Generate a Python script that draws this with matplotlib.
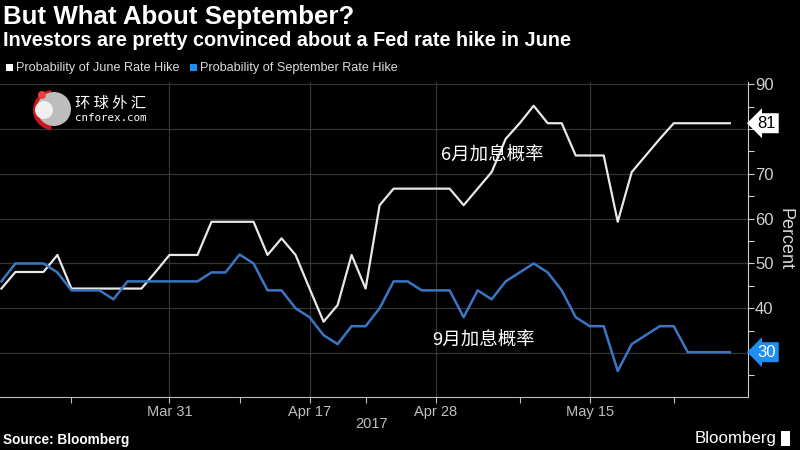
import matplotlib
matplotlib.use('Agg')
import matplotlib.pyplot as plt
import numpy as np
from matplotlib.patches import Rectangle, Circle, Wedge
from matplotlib.transforms import IdentityTransform

# trading days shown (CME closed Good Friday / Memorial Day)
dates = ['2017-03-15', '2017-03-16', '2017-03-17', '2017-03-20', '2017-03-21', '2017-03-22',
         '2017-03-23', '2017-03-24', '2017-03-27', '2017-03-28', '2017-03-29', '2017-03-30',
         '2017-03-31', '2017-04-03', '2017-04-04', '2017-04-05', '2017-04-06', '2017-04-07',
         '2017-04-10', '2017-04-11', '2017-04-12', '2017-04-13', '2017-04-17', '2017-04-18',
         '2017-04-19', '2017-04-20', '2017-04-21', '2017-04-24', '2017-04-25', '2017-04-26',
         '2017-04-27', '2017-04-28', '2017-05-01', '2017-05-02', '2017-05-03', '2017-05-04',
         '2017-05-05', '2017-05-08', '2017-05-09', '2017-05-10', '2017-05-11', '2017-05-12',
         '2017-05-15', '2017-05-16', '2017-05-17', '2017-05-18', '2017-05-19', '2017-05-22',
         '2017-05-23', '2017-05-24', '2017-05-25', '2017-05-26', '2017-05-30']

june_prob = [44.4, 48.1, 48.1, 48.1, 51.9, 44.4, 44.4, 44.4, 44.4, 44.4, 44.4, 48.1, 51.9,
             51.9, 51.9, 59.3, 59.3, 59.3, 59.3, 51.9, 55.6, 51.9, 44.4, 37.0, 40.7, 51.9,
             44.4, 63.0, 66.7, 66.7, 66.7, 66.7, 66.7, 63.0, 66.7, 70.4, 77.8, 81.3, 85.2,
             81.3, 81.3, 74.1, 74.1, 74.1, 59.3, 70.4, 74.1, 77.8, 81.3, 81.3, 81.3, 81.3, 81.3]

sept_prob = [46.0, 50.0, 50.0, 50.0, 48.0, 44.0, 44.0, 44.0, 42.0, 46.0, 46.0, 46.0, 46.0,
             46.0, 46.0, 48.0, 48.0, 52.0, 50.0, 44.0, 44.0, 40.0, 38.0, 34.0, 32.0, 36.0,
             36.0, 40.0, 46.0, 46.0, 44.0, 44.0, 44.0, 38.0, 44.0, 42.0, 46.0, 48.0, 50.0,
             48.0, 44.0, 38.0, 36.0, 36.0, 26.0, 32.0, 34.0, 36.0, 36.0, 30.2, 30.2, 30.2, 30.2]

major_dates = ['2017-03-31', '2017-04-17', '2017-04-28', '2017-05-15']
major_labels = ['Mar 31', 'Apr 17', 'Apr 28', 'May 15']
minor_dates = ['2017-03-22', '2017-04-07', '2017-04-21', '2017-05-08', '2017-05-23']
y_ticks = [30, 40, 50, 60, 70, 80, 90]
y_labels = ['', '40', '50', '60', '70', '', '90']  # 30 and 80 sit under the value tags

W = 800.0
H = 450.0
WHITE = '#e8e8e8'
BLUE = '#3a76c4'
TAG_BLUE = '#1f8ef1'
GRID = '#353535'
SANS = ['Liberation Sans', 'DejaVu Sans']
CJK = ['Noto Sans CJK SC', 'DejaVu Sans']

x = np.arange(len(dates))

fig = plt.figure(figsize=(8, 4.5), dpi=100, facecolor='black')
ax = fig.add_axes([0, 1 - 397 / H, 748 / W, (397 - 82) / H])
ax.set_facecolor('black')

ax.plot(x, june_prob, color=WHITE, lw=1.6, zorder=3)
ax.plot(x, sept_prob, color=BLUE, lw=1.8, zorder=3)

ax.set_xlim(-0.1, 53.3)
ax.set_ylim(20.2, 90.5)

# axes / ticks
ax.yaxis.tick_right()
ax.set_yticks(y_ticks)
ax.set_yticklabels(y_labels)
ax.set_yticks(np.arange(25, 90, 5), minor=True)
ax.set_xticks([dates.index(d) for d in major_dates])
ax.set_xticklabels(major_labels)
ax.set_xticks([dates.index(d) for d in minor_dates], minor=True)
ax.tick_params(axis='y', which='both', colors='#cfcfcf', length=4, width=0.8,
               labelsize=12, pad=1)
ax.tick_params(axis='x', which='both', colors='#bfbfbf', length=4, width=0.8,
               labelsize=10.5, pad=1.5)
for lab in ax.get_xticklabels() + ax.get_yticklabels():
    lab.set_family(SANS)
ax.grid(True, which='major', color=GRID, lw=0.9)
for side in ['left', 'top']:
    ax.spines[side].set_visible(False)
ax.spines['right'].set_color('#cfcfcf')
ax.spines['bottom'].set_color('#bfbfbf')

ax.set_ylabel('Percent', color='#d8d8d8', fontsize=13, rotation=270,
              family=SANS, labelpad=14)
ax.yaxis.set_label_position('right')
ax.text(0.497, -0.086, '2017', transform=ax.transAxes, ha='center', va='center',
        color='#bfbfbf', fontsize=10.5, family=SANS)

# last value tags
ax.text(1.013, june_prob[-1], f'{june_prob[-1]:.0f}', transform=ax.get_yaxis_transform(),
        ha='left', va='center', color='black', fontsize=12, family=SANS, zorder=5,
        bbox=dict(boxstyle='larrow,pad=0.15', fc='white', ec='none'))
ax.text(1.013, sept_prob[-1], f'{sept_prob[-1]:.0f}', transform=ax.get_yaxis_transform(),
        ha='left', va='center', color='white', fontsize=12, family=SANS, zorder=5,
        bbox=dict(boxstyle='larrow,pad=0.15', fc=TAG_BLUE, ec='none'))

# chinese annotations
ax.text(31.4, 74.0, '6月加息概率', color='white', fontsize=13.3, family=CJK,
        ha='left', va='center')
ax.text(30.75, 32.8, '9月加息概率', color='white', fontsize=13.3, family=CJK,
        ha='left', va='center')

# titles
fig.text(3 / W, 1 - 17 / H, 'But What About September?', color='white', fontsize=18.6,
         fontweight='bold', family=SANS, va='center')
fig.text(3 / W, 1 - 41 / H, 'Investors are pretty convinced about a Fed rate hike in June',
         color='white', fontsize=14.3, fontweight='bold', family=SANS, va='center')

# legend
fig.patches.append(Rectangle((6 / W, 1 - 71 / H), 7 / W, 7 / H, transform=fig.transFigure,
                             fc='white', ec='none'))
fig.text(16 / W, 1 - 67.5 / H, 'Probability of June Rate Hike', color='#d8d8d8',
         fontsize=9.1, family=SANS, va='center')
fig.patches.append(Rectangle((190 / W, 1 - 71 / H), 7 / W, 7 / H, transform=fig.transFigure,
                             fc=TAG_BLUE, ec='none'))
fig.text(200 / W, 1 - 67.5 / H, 'Probability of September Rate Hike', color='#d8d8d8',
         fontsize=9.1, family=SANS, va='center')

# cnforex watermark (pixel coordinates)
px = IdentityTransform()
fig.patches.append(Wedge((53, H - 110), 20, 95, 265, width=5, transform=px,
                         fc='#d0161d', ec='none'))
fig.patches.append(Circle((54, H - 109), 17, transform=px, fc='#bdbdbd', ec='none'))
fig.patches.append(Circle((44, H - 110), 9, transform=px, fc='#f0f0f0', ec='none'))
fig.patches.append(Circle((42, H - 95), 4, transform=px, fc='#e84040', ec='none'))
fig.text(75 / W, 1 - 103 / H, '环 球 外 汇', color='white', fontsize=11, family=CJK,
         va='center')
fig.text(75 / W, 1 - 118 / H, 'cnforex.com', color='white', fontsize=7.8,
         family='DejaVu Sans Mono', va='center')

# footer
fig.text(3 / W, 1 - 440 / H, 'Source: Bloomberg', color='white', fontsize=9.8,
         fontweight='bold', family=SANS, va='center')
fig.text(777 / W, 1 - 438 / H, 'Bloomberg', color='white', fontsize=12.2,
         family=SANS, va='center', ha='right')
fig.patches.append(Rectangle((781 / W, 1 - 446 / H), 9 / W, 15 / H,
                             transform=fig.transFigure, fc='white', ec='none'))

fig.savefig('out.png', dpi=100, facecolor='black')
